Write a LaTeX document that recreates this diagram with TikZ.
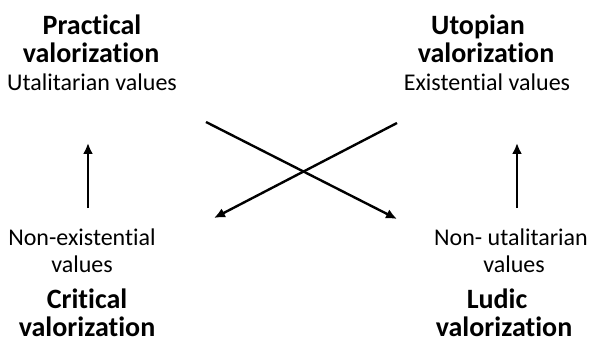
\documentclass[tikz,border=0pt]{standalone}
\usepackage{fontspec}
\setmainfont{Carlito}[Ligatures={NoCommon,NoContextual}]
\usetikzlibrary{arrows.meta}
\begin{document}
\begin{tikzpicture}[x=1pt,y=-1pt,
  head/.style={font=\fontsize{28}{28}\selectfont\bfseries, anchor=base, inner sep=0pt},
  sub/.style={font=\fontsize{24}{24}\selectfont, anchor=base, inner sep=0pt},
  arr/.style={line width=2.4pt, -{Latex[length=11pt,width=10pt]}}]
\useasboundingbox (0,0) rectangle (589,342);
% left top
\node[head] (prac1) at (92,35) {Practical};
\node[head] (prac2) at (91,63) {valorization};
\node[sub]  (util)  at (92,91) {Utalitarian values};
% right top
\node[head] (utop1) at (478,35) {Utopian};
\node[head] (utop2) at (486,63) {valorization};
\node[sub]  (exis)  at (487,91) {Existential values};
% left bottom
\node[sub]  (nonex1) at (82,245) {Non-existential};
\node[sub]  (nonex2) at (82,272) {values};
\node[head] (crit1)  at (87,308) {Critical};
\node[head] (crit2)  at (87,336) {valorization};
% right bottom
\node[sub]  (nonut1) at (511,245) {Non- utalitarian};
\node[sub]  (nonut2) at (514,272) {values};
\node[head] (lud1)   at (497,308) {Ludic};
\node[head] (lud2)   at (504,336) {valorization};
% arrow endpoints
\coordinate (la0) at (88,208);
\coordinate (la1) at (88,143);
\coordinate (ra0) at (517,208);
\coordinate (ra1) at (517,143);
\coordinate (c1s) at (206,122);
\coordinate (c1e) at (397,219);
\coordinate (c2s) at (397,123);
\coordinate (c2e) at (214,218);
\draw[arr] (la0) -- (la1);
\draw[arr] (ra0) -- (ra1);
\draw[arr] (c1s) -- (c1e);
\draw[arr] (c2s) -- (c2e);
\end{tikzpicture}
\end{document}
